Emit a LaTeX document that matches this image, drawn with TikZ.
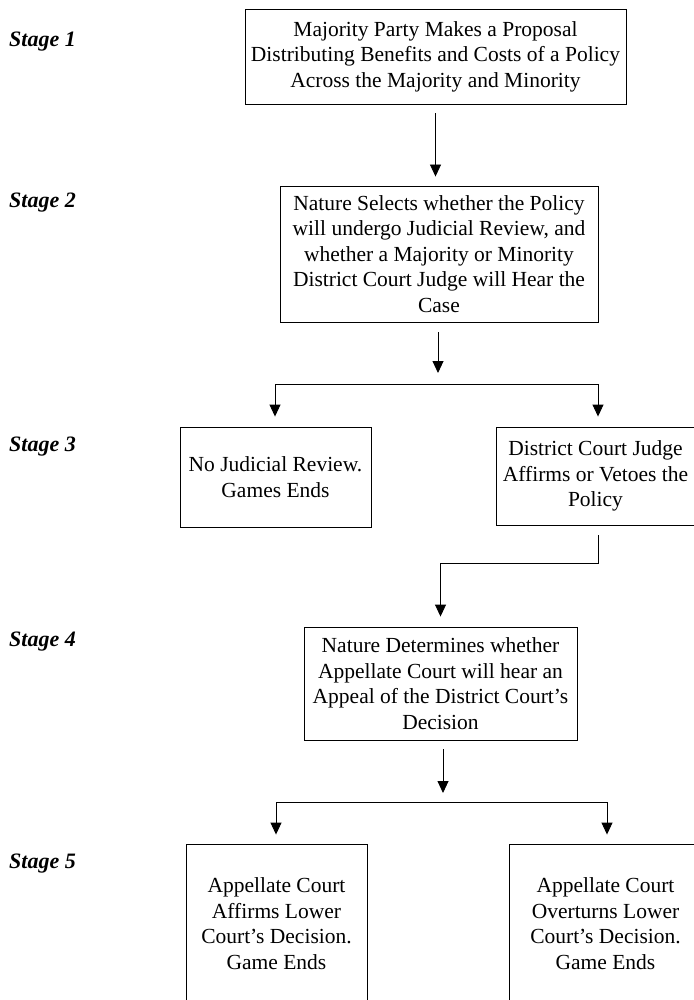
\documentclass[tikz,border=0pt]{standalone}
\usepackage{fontspec}
\setmainfont{Liberation Serif}
\usetikzlibrary{arrows.meta,positioning,calc}

\begin{document}
\begin{tikzpicture}[x=1pt,y=-1pt,
  box/.style={draw,line width=0.9pt,align=center,inner sep=0pt,
    font=\fontsize{21.5}{25.5}\selectfont},
  stagelbl/.style={anchor=base west,inner sep=0pt,
    font=\fontsize{22}{26}\selectfont\bfseries\itshape},
  lnk/.style={line width=0.9pt},
  arr/.style={lnk,-{Triangle[length=12pt,width=11pt]}}]
  \useasboundingbox (0,0) rectangle (693,1000);
  % stages
  \node[stagelbl] (s1) at (9,47) {Stage 1};
  \node[stagelbl] (s2) at (9,208) {Stage 2};
  \node[stagelbl] (s3) at (9,451) {Stage 3};
  \node[stagelbl] (s4) at (9,646) {Stage 4};
  \node[stagelbl] (s5) at (9,868) {Stage 5};
  % boxes
  \node[box,minimum width=381pt,minimum height=95pt] (prop) at (435.5,56.5)
    {Majority Party Makes a Proposal\\Distributing Benefits and Costs of a Policy\\Across the Majority and Minority};
  \node[box,minimum width=318pt,minimum height=136pt] (sel) at (439,254)
    {Nature Selects whether the Policy\\will undergo Judicial Review, and\\whether a Majority or Minority\\District Court Judge will Hear the\\Case};
  \node[box,minimum width=191pt,minimum height=100pt] (nojr) at (275.5,477)
    {No Judicial Review.\\Games Ends};
  \node[box,minimum width=199pt,minimum height=98pt] (dcj) at (595.5,476)
    {District Court Judge\\Affirms or Vetoes the\\Policy};
  \node[box,minimum width=273pt,minimum height=113pt] (appeal) at (440.5,683.5)
    {Nature Determines whether\\Appellate Court will hear an\\Appeal of the District Court's\\Decision};
  \node[box,minimum width=181pt,minimum height=159pt] (aff) at (276.5,923.5)
    {Appellate Court\\Affirms Lower\\Court's Decision.\\Game Ends};
  \node[box,minimum width=193pt,minimum height=159pt] (over) at (605.5,923.5)
    {Appellate Court\\Overturns Lower\\Court's Decision.\\Game Ends};
  % stage 1 -> 2
  \draw[arr,shorten <=9pt,shorten >=9pt] (prop.south) -- (prop.south |- sel.north);
  % stage 2 -> 3
  \coordinate (j1) at (438,384);
  \coordinate (jl) at (275,384);
  \coordinate (jr) at (598,384);
  \draw[arr,shorten <=10pt,shorten >=11pt] (sel.south -| j1) -- (j1);
  \draw[lnk] (jl) -- (jr);
  \draw[arr,shorten >=10pt] (jl) -- (jl |- nojr.north);
  \draw[arr,shorten >=10pt] (jr) -- (jr |- dcj.north);
  % stage 3 -> 4
  \coordinate (k1) at (598,563);
  \draw[arr,shorten <=10pt,shorten >=10pt] (k1 |- dcj.south) -- (k1) -| (appeal.north);
  % stage 4 -> 5
  \coordinate (j2) at (443,802);
  \coordinate (ml) at (276,802);
  \coordinate (mr) at (607,802);
  \draw[arr,shorten <=9pt,shorten >=9pt] (appeal.south -| j2) -- (j2);
  \draw[lnk] (ml) -- (mr);
  \draw[arr,shorten >=9pt] (ml) -- (ml |- aff.north);
  \draw[arr,shorten >=9pt] (mr) -- (mr |- over.north);
\end{tikzpicture}
\end{document}
